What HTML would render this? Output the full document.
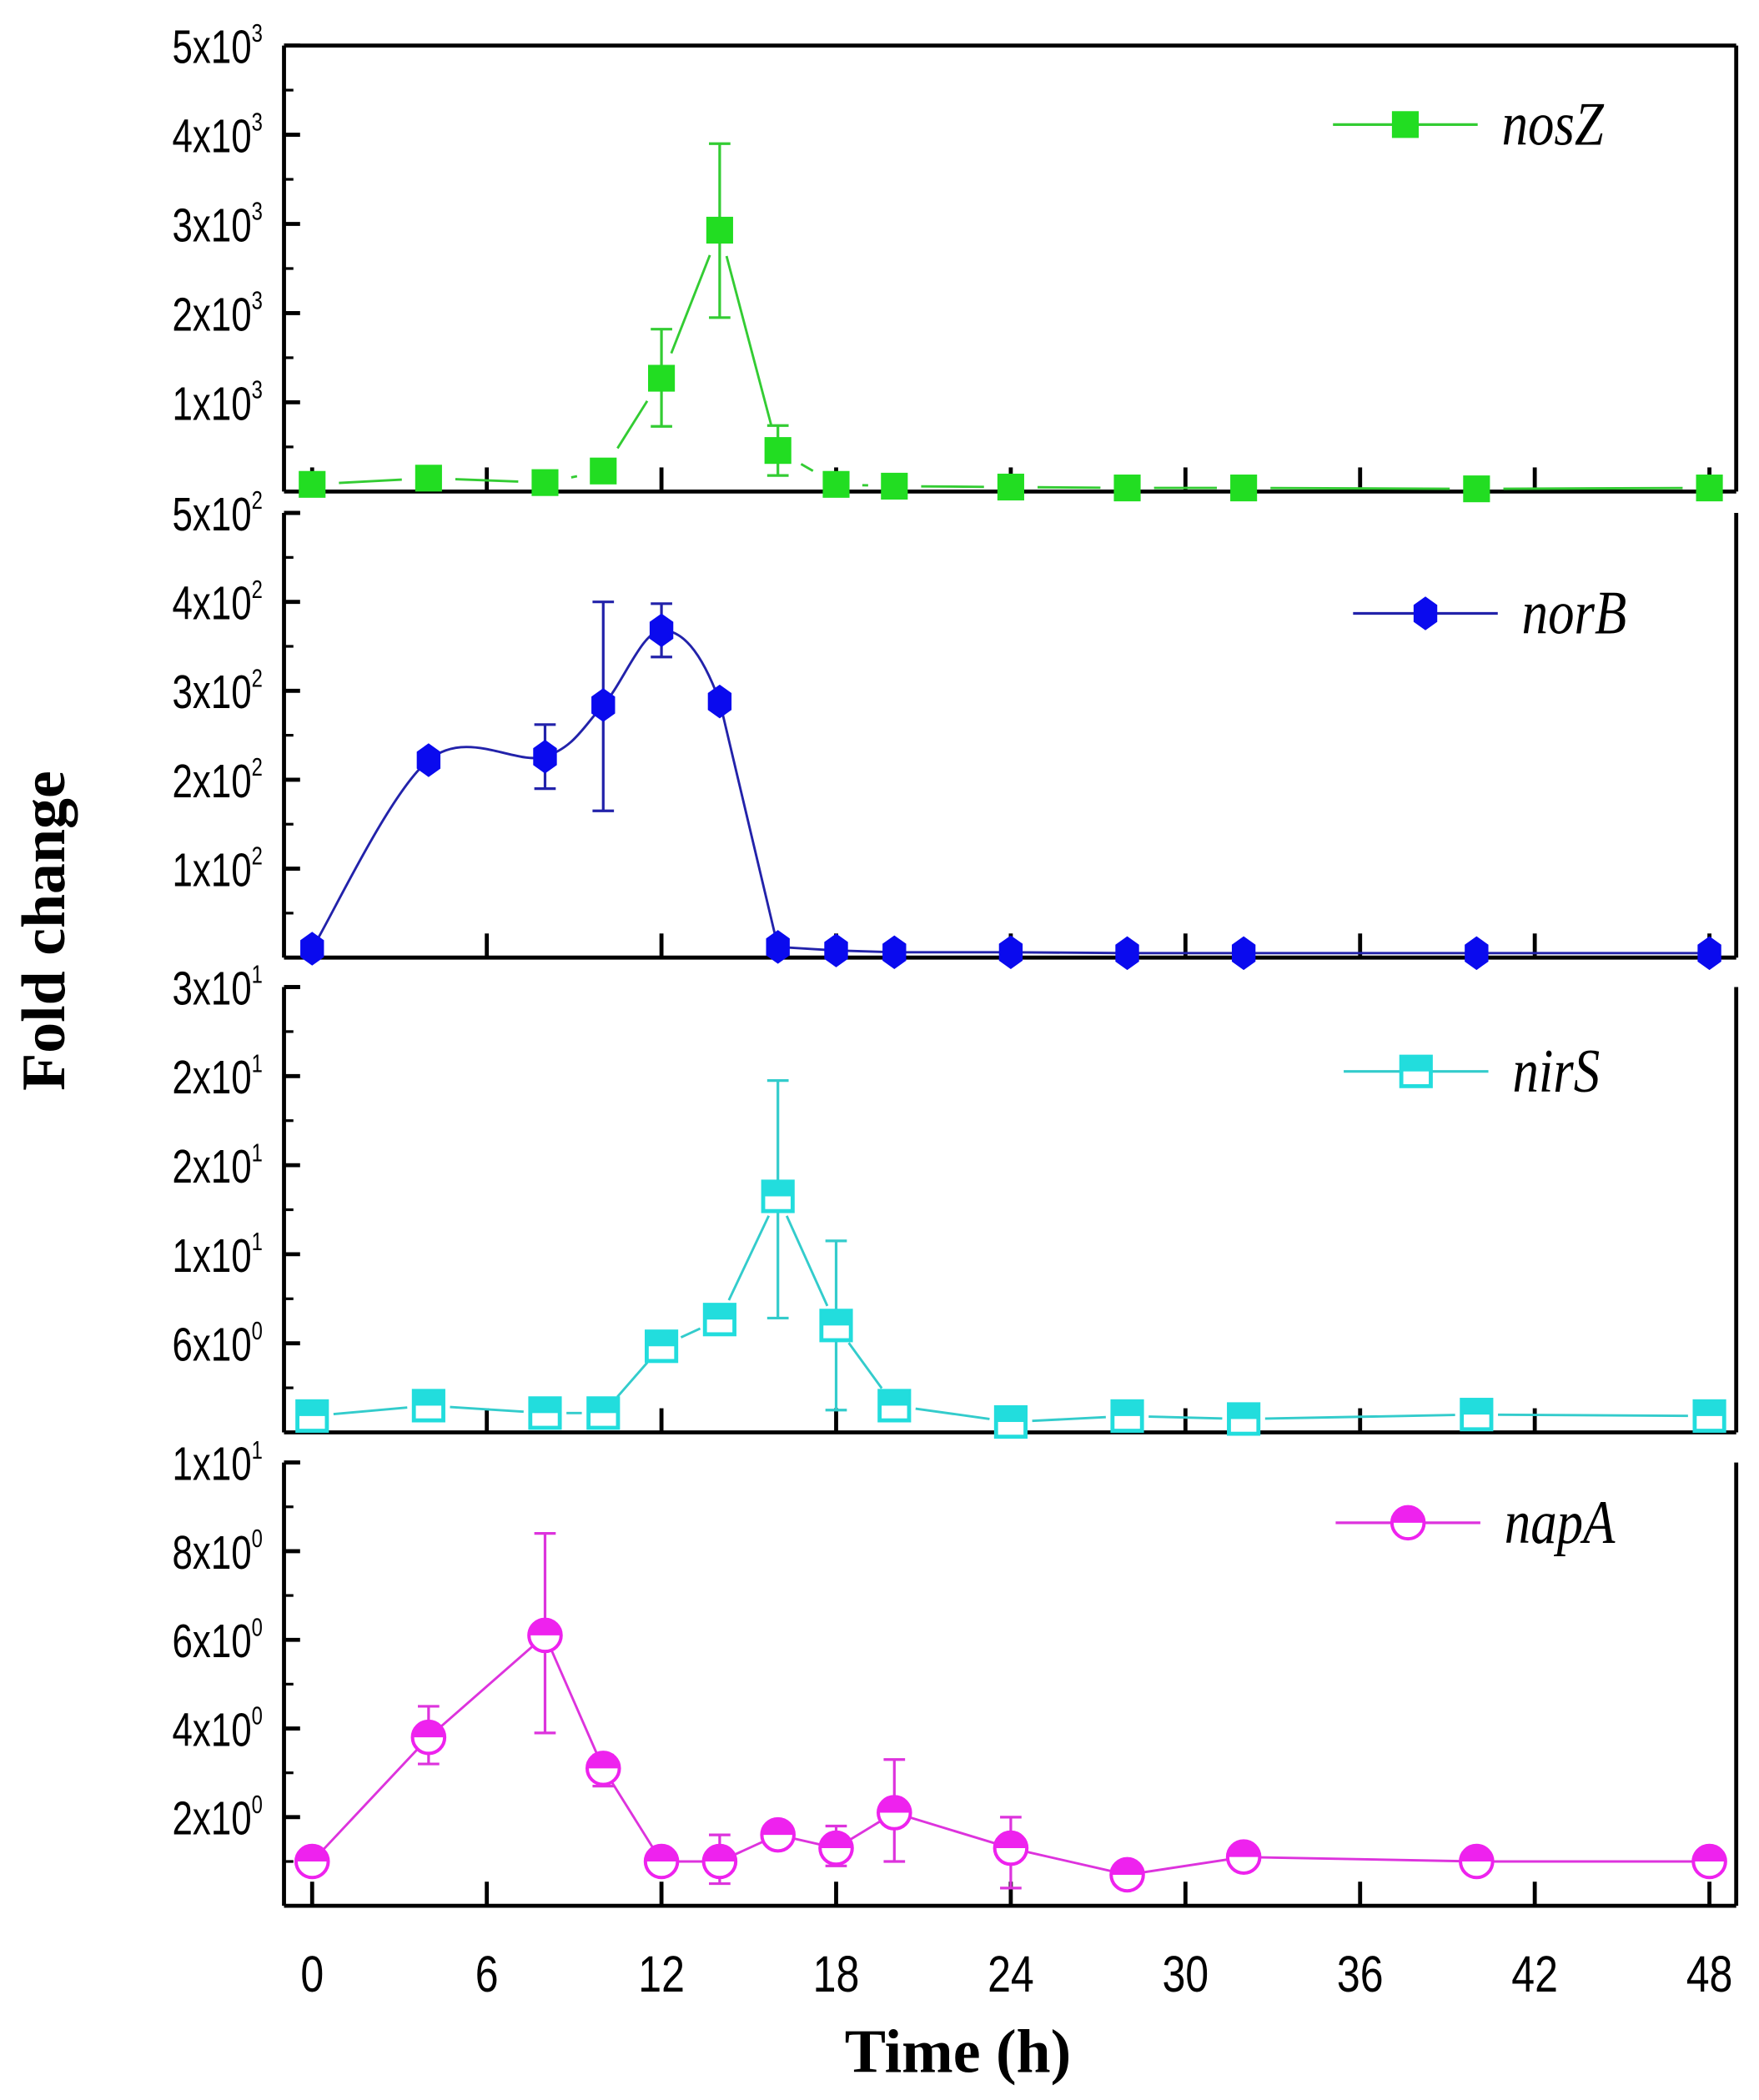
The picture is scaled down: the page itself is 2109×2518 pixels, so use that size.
<!DOCTYPE html>
<html><head><meta charset="utf-8"><style>html,body{margin:0;padding:0;background:#fff}svg{display:block}</style></head>
<body>
<svg id="chart" xmlns="http://www.w3.org/2000/svg" width="2109" height="2518" viewBox="0 0 1313 1568" preserveAspectRatio="none">
<rect width="1313" height="1568" fill="#fff"/>
<g id="g"></g>
</svg>
<script>
const times = [0,4,8,10,12,14,16,18,20,24,28,32,40,48];
const nosZ = [80,150,100,230,1270,2930,460,80,60,50,40,40,30,40];
const nosZErrLo = {12:730,14:1950,16:180};
const nosZErrHi = {12:1820,14:3900,16:740};
const norB = [10,222,226,284,368,288,12,8,6,6,5,5,5,5];
const norBErrLo = {8:190,10:165,12:338};
const norBErrHi = {8:262,10:400,12:398};
const nirS = [1.1,1.8,1.3,1.3,5.8,7.6,15.9,7.2,1.8,0.7,1.1,0.9,1.2,1.1];
const nirSErrLo = {16:7.7,18:1.5};
const nirSErrHi = {16:23.7,18:12.9};
const napA = [1.0,3.8,6.1,3.1,1.0,1.0,1.6,1.3,2.1,1.3,0.7,1.1,1.0,1.0];
const napAErrLo = {4:3.2,8:3.9,10:2.7,14:0.5,18:0.9,20:1.0,24:0.4};
const napAErrHi = {4:4.5,8:8.4,10:3.4,14:1.6,18:1.8,20:3.3,24:2.0};
const xTicks = [0,6,12,18,24,30,36,42,48];

const NS='http://www.w3.org/2000/svg';
const g=document.getElementById('g');
function el(t,a,p){const e=document.createElementNS(NS,t);for(const k in a)e.setAttribute(k,a[k]);(p||g).appendChild(e);return e;}
const L=212,R=1296;
const xS=t=>233+t*(1276-233)/48;

const panels=[
 {name:'nosz',top:34,bot:367,min:0,max:5000,ticks:[1000,2000,3000,4000,5000],labels:[['1','3'],['2','3'],['3','3'],['4','3'],['5','3']],data:nosZ,lo:nosZErrLo,hi:nosZErrHi,color:'#22dd22',line:'#33cc33',marker:'square',leg:'nosZ',ly:93,lx:995,topBorder:true,gap:20},
 {name:'norb',top:383,bot:715,min:0,max:500,ticks:[100,200,300,400,500],labels:[['1','2'],['2','2'],['3','2'],['4','2'],['5','2']],data:norB,lo:norBErrLo,hi:norBErrHi,color:'#0a0aee',line:'#2222aa',marker:'hex',leg:'norB',ly:458,lx:1010,smooth:true,gap:0},
 {name:'nirs',top:737,bot:1069.5,min:0,max:30,ticks:[6,12,18,24,30],labels:[['6','0'],['1','1'],['2','1'],['2','1'],['3','1']],data:nirS,lo:nirSErrLo,hi:nirSErrHi,color:'#22dddd',line:'#33cccc',marker:'halfsq',leg:'nirS',ly:800,lx:1003,gap:16},
 {name:'napa',top:1092,bot:1423,min:0,max:10,ticks:[2,4,6,8,10],labels:[['2','0'],['4','0'],['6','0'],['8','0'],['1','1']],data:napA,lo:napAErrLo,hi:napAErrHi,color:'#ee22ee',line:'#dd33dd',marker:'halfcirc',leg:'napA',ly:1137,lx:997,gap:0}
];

function marker(p,cx,cy,parent,nm){
  const c=p.color;
  const grp=el('g',{},parent);
  
  
  if(p.marker==='square'){el('rect',{x:cx-10,y:cy-10,width:20,height:20,fill:c},grp);}
  else if(p.marker==='hex'){const r=12;let pts=[];for(let i=0;i<6;i++){const a=Math.PI/6+i*Math.PI/3;pts.push((cx+r*0.85*Math.cos(a))+','+(cy+r*Math.sin(a)*1.05));}el('polygon',{points:pts.join(' '),fill:c},grp);}
  else if(p.marker==='halfsq'){el('rect',{x:cx-11,y:cy-11,width:22,height:22,fill:'#fff',stroke:c,'stroke-width':3},grp);el('rect',{x:cx-11,y:cy-11,width:22,height:11,fill:c},grp);}
  else {el('circle',{cx:cx,cy:cy,r:12,fill:'#fff',stroke:c,'stroke-width':2.5},grp);el('path',{d:`M${cx-12},${cy} A12,12 0 0 1 ${cx+12},${cy} Z`,fill:c},grp);}
}

panels.forEach((p,pi)=>{
  const yS=v=>p.bot-(v-p.min)/(p.max-p.min)*(p.bot-p.top);
  const pg=el('g',{});
  
  
  el('line',{x1:L,y1:p.top,x2:L,y2:p.bot,stroke:'#000','stroke-width':3},pg);
  el('line',{x1:R,y1:p.top,x2:R,y2:p.bot,stroke:'#000','stroke-width':3},pg);
  el('line',{x1:L,y1:p.bot,x2:R,y2:p.bot,stroke:'#000','stroke-width':3},pg);
  if(p.topBorder) el('line',{x1:L,y1:p.top,x2:R,y2:p.top,stroke:'#000','stroke-width':3},pg);
  else el('line',{x1:L,y1:p.top,x2:L+12,y2:p.top,stroke:'#000','stroke-width':3},pg);
  p.ticks.forEach((t,i)=>{
    const y=yS(t);
    el('line',{x1:L,y1:y,x2:L+12,y2:y,stroke:'#000','stroke-width':3},pg);
    const my=yS(t-(p.ticks[1]-p.ticks[0])/2);
    el('line',{x1:L,y1:my,x2:L+7,y2:my,stroke:'#000','stroke-width':2},pg);
    const tx=el('text',{x:196,y:y+13,'text-anchor':'end','font-family':'Liberation Sans, sans-serif','font-size':35,fill:'#000',transform:`translate(196 0) scale(0.78 1) translate(-196 0)`},pg);
    
    
    tx.innerHTML=p.labels[i][0]+'x10<tspan dy="-16" font-size="19">'+p.labels[i][1]+'</tspan>';
  });
  xTicks.forEach(t=>{el('line',{x1:xS(t),y1:p.bot,x2:xS(t),y2:p.bot-18,stroke:'#000','stroke-width':3},pg);});
  const pts=times.map((t,i)=>[xS(t),yS(p.data[i])]);
  let d='';
  if(p.smooth){
    d='M'+pts[0][0]+','+pts[0][1];
    for(let i=0;i<pts.length-1;i++){
      if(i>=5){d+=' L'+pts[i+1][0]+','+pts[i+1][1];continue;}
      const p0=pts[Math.max(0,i-1)],p1=pts[i],p2=pts[i+1],p3=pts[Math.min(pts.length-1,i+2)];
      d+=` C${p1[0]+(p2[0]-p0[0])/6},${p1[1]+(p2[1]-p0[1])/6} ${p2[0]-(p3[0]-p1[0])/6},${p2[1]-(p3[1]-p1[1])/6} ${p2[0]},${p2[1]}`;}
  } else {
    for(let i=0;i<pts.length-1;i++){
      const a=pts[i],b=pts[i+1];const dx=b[0]-a[0],dy=b[1]-a[1];const len=Math.hypot(dx,dy);
      const gp=Math.min(p.gap,len*0.45);
      const ux=dx/len,uy=dy/len;
      d+=` M${a[0]+ux*gp},${a[1]+uy*gp} L${b[0]-ux*gp},${b[1]-uy*gp}`;
    }
  }
  const ln=el('path',{d:d,fill:'none',stroke:p.line,'stroke-width':1.8},pg);
  
  
  times.forEach((t,i)=>{
    if(p.lo[t]===undefined) return;
    const x=xS(t),y1=yS(p.lo[t]),y2=yS(p.hi[t]);
    const eb=el('g',{stroke:p.line,'stroke-width':2},pg);
    
    
    el('line',{x1:x,y1:y1,x2:x,y2:y2},eb);
    el('line',{x1:x-8,y1:y1,x2:x+8,y2:y1},eb);
    el('line',{x1:x-8,y1:y2,x2:x+8,y2:y2},eb);
  });
  pts.forEach(q=>marker(p,q[0],q[1],pg,p.name+'-point'));
  const lg=el('g',{},pg);
  
  
  el('line',{x1:p.lx,y1:p.ly,x2:p.lx+108,y2:p.ly,stroke:p.line,'stroke-width':2},lg);
  marker(p,p.lx+54,p.ly,lg,'legend-marker');
  const lt=el('text',{x:p.lx+126,y:p.ly+15,'font-family':'Liberation Serif, serif','font-style':'italic','font-size':46,fill:'#000',transform:`translate(${p.lx+126} 0) scale(0.85 1) translate(${-(p.lx+126)} 0)`},lg);
  lt.textContent=p.leg;
});
xTicks.forEach(t=>{
  const tx=el('text',{x:xS(t),y:1487,'text-anchor':'middle','font-family':'Liberation Sans, sans-serif','font-size':38,fill:'#000',transform:`translate(${xS(t)} 0) scale(0.82 1) translate(${-xS(t)} 0)`});
  
  
  tx.textContent=t;
});
const xt=el('text',{x:715,y:1547,'text-anchor':'middle','font-family':'Liberation Serif, serif','font-weight':'bold','font-size':46,fill:'#000'});


xt.textContent='Time (h)';
const yt=el('text',{x:0,y:0,'text-anchor':'middle','font-family':'Liberation Serif, serif','font-weight':'bold','font-size':46,fill:'#000',transform:'translate(48 695) rotate(-90)'});


yt.textContent='Fold change';
</script>
</body></html>
